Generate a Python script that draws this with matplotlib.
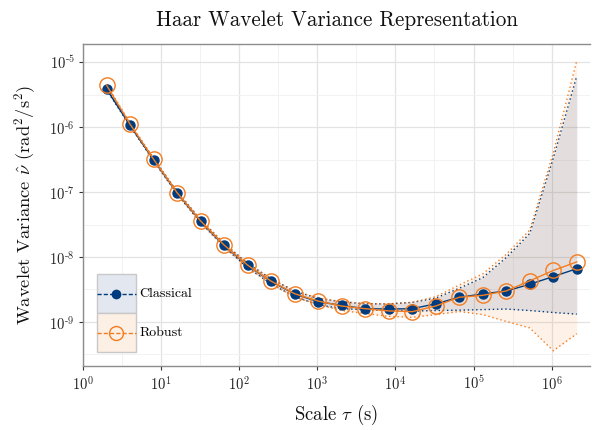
import matplotlib
matplotlib.use("Agg")
import matplotlib.pyplot as plt
import numpy as np
from matplotlib.legend_handler import HandlerLine2D
from matplotlib.patches import Rectangle
from matplotlib.lines import Line2D
from matplotlib.ticker import FixedLocator, FixedFormatter, NullFormatter

# ---------------- data ----------------
scales = [2, 4, 8, 16, 32, 64, 128, 256, 512, 1024, 2048, 4096, 8192, 16384,
          32768, 65536, 131072, 262144, 524288, 1048576, 2097152]

classical = [3.85e-6, 1.06e-6, 3.14e-7, 9.7e-8, 3.55e-8, 1.51e-8, 7.4e-9, 4.2e-9,
             2.7e-9, 2.05e-9, 1.8e-9, 1.6e-9, 1.58e-9, 1.6e-9, 1.9e-9, 2.4e-9,
             2.7e-9, 3.0e-9, 3.8e-9, 5.0e-9, 6.6e-9]
classical_lo = [3.75e-6, 1.03e-6, 3.03e-7, 9.3e-8, 3.38e-8, 1.42e-8, 6.85e-9, 3.85e-9,
                2.45e-9, 1.84e-9, 1.6e-9, 1.55e-9, 1.5e-9, 1.47e-9, 1.5e-9, 1.52e-9,
                1.55e-9, 1.58e-9, 1.5e-9, 1.4e-9, 1.32e-9]
classical_hi = [3.95e-6, 1.09e-6, 3.26e-7, 1.01e-7, 3.75e-8, 1.61e-8, 8.0e-9, 4.6e-9,
                3.0e-9, 2.3e-9, 2.05e-9, 1.9e-9, 1.9e-9, 2.0e-9, 2.33e-9, 3.3e-9,
                4.8e-9, 9.8e-9, 2.3e-8, 3.3e-7, 6.1e-6]

robust = [4.43e-6, 1.11e-6, 3.2e-7, 9.8e-8, 3.6e-8, 1.53e-8, 7.5e-9, 4.25e-9,
          2.72e-9, 2.1e-9, 1.76e-9, 1.6e-9, 1.48e-9, 1.44e-9, 1.76e-9, 2.4e-9,
          2.57e-9, 3.0e-9, 4.3e-9, 6.2e-9, 8.4e-9]
robust_lo = [4.25e-6, 1.07e-6, 3.05e-7, 9.3e-8, 3.4e-8, 1.43e-8, 6.9e-9, 3.85e-9,
             2.42e-9, 1.85e-9, 1.5e-9, 1.35e-9, 1.22e-9, 1.18e-9, 1.3e-9, 1.45e-9,
             1.3e-9, 1.02e-9, 8.1e-10, 3.6e-10, 6.6e-10]
robust_hi = [4.6e-6, 1.15e-6, 3.35e-7, 1.03e-7, 3.8e-8, 1.63e-8, 8.1e-9, 4.65e-9,
             3.0e-9, 2.35e-9, 2.05e-9, 1.92e-9, 1.9e-9, 2.0e-9, 2.45e-9, 3.7e-9,
             5.5e-9, 1.1e-8, 2.6e-8, 4.0e-7, 1.05e-5]

x_ticks = [1e0, 1e1, 1e2, 1e3, 1e4, 1e5, 1e6]
x_ticklabels = [r"$10^{0}$", r"$10^{1}$", r"$10^{2}$", r"$10^{3}$", r"$10^{4}$",
                r"$10^{5}$", r"$10^{6}$"]
y_ticks = [1e-9, 1e-8, 1e-7, 1e-6, 1e-5]
y_ticklabels = [r"$10^{\text{-}9}$", r"$10^{\text{-}8}$", r"$10^{\text{-}7}$",
                r"$10^{\text{-}6}$", r"$10^{\text{-}5}$"]

title = "Haar Wavelet Variance Representation"
xlabel = r"Scale $\tau$ (s)"
ylabel = r"Wavelet Variance $\hat{\nu}$ (rad$^2$/s$^2$)"

# ---------------- style ----------------
plt.rcParams["font.family"] = ["cmr10", "DejaVu Serif"]
plt.rcParams["mathtext.fontset"] = "cm"
plt.rcParams["axes.unicode_minus"] = False

NAVY = "#003C7D"
ORANGE = "#F47C20"

fig = plt.figure(figsize=(5.92, 4.30), dpi=100)
ax = fig.add_axes([83 / 592, 1 - 366 / 430, 507 / 592, 322 / 430])

ax.set_xscale("log")
ax.set_yscale("log")
ax.set_xlim(1, 3.1e6)
ax.set_ylim(2.1e-10, 1.9e-5)

# CI fills
ax.fill_between(scales, robust_lo, robust_hi, color=ORANGE, alpha=0.1, lw=0, zorder=1)
ax.fill_between(scales, classical_lo, classical_hi, color=NAVY, alpha=0.1, lw=0, zorder=1)

# CI dotted bounds
for lo, hi, col in [(classical_lo, classical_hi, NAVY), (robust_lo, robust_hi, ORANGE)]:
    ax.plot(scales, lo, ls=(0, (1, 2)), color=col, lw=1.0, zorder=2)
    ax.plot(scales, hi, ls=(0, (1, 2)), color=col, lw=1.0, zorder=2)

# estimates
ax.plot(scales, classical, color=NAVY, lw=1.0, marker="o", ms=6.5, mfc=NAVY,
        mec=NAVY, zorder=3)
ax.plot(scales, robust, color=ORANGE, lw=1.0, marker="o", ms=11, mfc="none",
        mec=ORANGE, mew=1.0, zorder=4)

# ticks & grid
ax.xaxis.set_major_locator(FixedLocator(x_ticks))
ax.xaxis.set_major_formatter(FixedFormatter(x_ticklabels))
ax.yaxis.set_major_locator(FixedLocator(y_ticks))
ax.yaxis.set_major_formatter(FixedFormatter(y_ticklabels))
ax.xaxis.set_minor_locator(FixedLocator([10 ** (k + 0.5) for k in range(0, 7)]))
ax.yaxis.set_minor_locator(FixedLocator([10 ** (k + 0.5) for k in range(-10, -4)]))
ax.xaxis.set_minor_formatter(NullFormatter())
ax.yaxis.set_minor_formatter(NullFormatter())
ax.tick_params(which="minor", length=0)
ax.tick_params(which="major", length=3, width=0.8, color="#333333",
               labelsize=10.5, pad=3, labelcolor="#222222")
ax.grid(True, which="major", color="#e3e3e3", lw=0.9, zorder=0)
ax.grid(True, which="minor", color="#f2f2f2", lw=0.7, zorder=0)
ax.set_axisbelow(True)

for side in ["left", "bottom", "top"]:
    ax.spines[side].set_color("#8c8c8c")
    ax.spines[side].set_linewidth(1.0)
ax.spines["right"].set_visible(False)

ax.set_title(title, fontsize=15.2, pad=13, color="#111111")
ax.set_xlabel(xlabel, fontsize=13.5, labelpad=8, color="#111111")
ax.set_ylabel(ylabel, fontsize=13.3, labelpad=8, color="#111111")


# legend with coloured key backgrounds
class HandlerBg(HandlerLine2D):
    def __init__(self, bg, **kw):
        super().__init__(**kw)
        self.bg = bg

    def create_artists(self, legend, orig_handle, xdescent, ydescent, width,
                       height, fontsize, trans):
        arts = super().create_artists(legend, orig_handle, xdescent, ydescent,
                                      width, height, fontsize, trans)
        rect = Rectangle((-xdescent, -ydescent), width, height, facecolor=self.bg,
                         edgecolor="#c8c8c8", lw=1.0, transform=trans)
        yc = height / 2.0 - ydescent
        for a in arts:
            if isinstance(a, Line2D):
                a.set_ydata(np.full(len(a.get_xdata()), yc))
        return [rect] + list(arts)


h_c = Line2D([], [], color=NAVY, ls=(0, (3, 1.5)), lw=1.0, marker="o", ms=6,
             mfc=NAVY, mec=NAVY)
h_r = Line2D([], [], color=ORANGE, ls=(0, (3, 1.5)), lw=1.0, marker="o", ms=10,
             mfc="none", mec=ORANGE)
leg = ax.legend([h_c, h_r], ["Classical", "Robust"], loc="lower left",
                bbox_to_anchor=(14 / 507, 14 / 322), borderaxespad=0, borderpad=0,
                frameon=False, handlelength=2.8, handleheight=3.93, labelspacing=0,
                handletextpad=0.25, fontsize=10,
                handler_map={h_c: HandlerBg("#e3e8f0", numpoints=1),
                             h_r: HandlerBg("#fcefe4", numpoints=1)})

fig.savefig("out.png", dpi=100)
